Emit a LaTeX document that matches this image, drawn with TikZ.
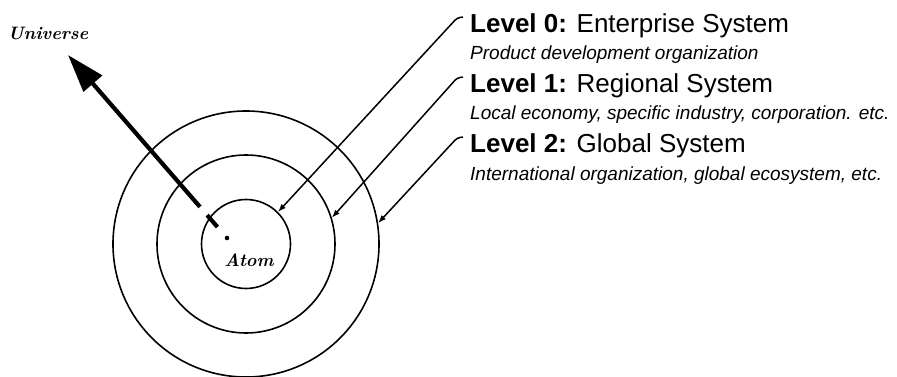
\documentclass[tikz,border=0pt]{standalone}
\usepackage{fontspec}
\newfontfamily\arialfont{Liberation Sans}
\usetikzlibrary{arrows.meta,calc}

\begin{document}
\begin{tikzpicture}[x=1pt,y=-1pt,
  ring/.style={draw,circle,line width=1.6pt,inner sep=0pt},
  lvl/.style={line width=1.5pt,rounded corners=3pt,-{Latex[length=8pt,width=6pt]}},
  head/.style={anchor=base west,inner sep=0pt,font=\arialfont\fontsize{26}{26}\selectfont},
  sub/.style={anchor=base west,inner sep=0pt,font=\arialfont\itshape\fontsize{19}{19}\selectfont},
  hand/.style={inner sep=0pt,font=\bfseries\itshape\fontsize{18}{18}\selectfont}]
\useasboundingbox (0,0) rectangle (897,377);

\coordinate (C) at (246,244);
\node[ring,minimum size=89pt] (enterprise) at (C) {};
\node[ring,minimum size=178pt] (regional) at (C) {};
\node[ring,minimum size=266pt] (global) at (C) {};
\node[hand] (atom) at (249,260) {Atom};

\node[head] (L0) at (470,33) {\textbf{Level 0:} Enterprise System};
\node[sub] (D0) at (470,60) {Product development organization};
\node[head] (L1) at (470,93) {\textbf{Level 1:} Regional System};
\node[sub] (D1) at (470,120) {Local economy, specific industry, corporation. etc.};
\node[head] (L2) at (470,153) {\textbf{Level 2:} Global System};
\node[sub] (D2) at (470,180) {International organization, global ecosystem, etc.};

\coordinate (H0) at (463,17);
\coordinate (H1) at (463,77);
\coordinate (H2) at (463,137);
\draw[lvl] (H0) -- ++(-6,1) -- (enterprise.45);
\draw[lvl] (H1) -- ++(-6,1) -- (regional.17);
\draw[lvl] (H2) -- ++(-6,1) -- (global.9.5);

% the way out
\node[hand] (univ) at (48,33) {Universe};
\coordinate (core) at (227,238);
\coordinate (tip) at (68,55);
\draw[line width=4.2pt,-{Triangle[length=38pt,width=24pt]}] ($(core)!0.17!(tip)$) -- (tip);
\draw[line width=4.2pt] ($(core)!0.06!(tip)$) -- ($(core)!0.125!(tip)$);
\fill (core) circle (2.3pt);
\end{tikzpicture}
\end{document}
